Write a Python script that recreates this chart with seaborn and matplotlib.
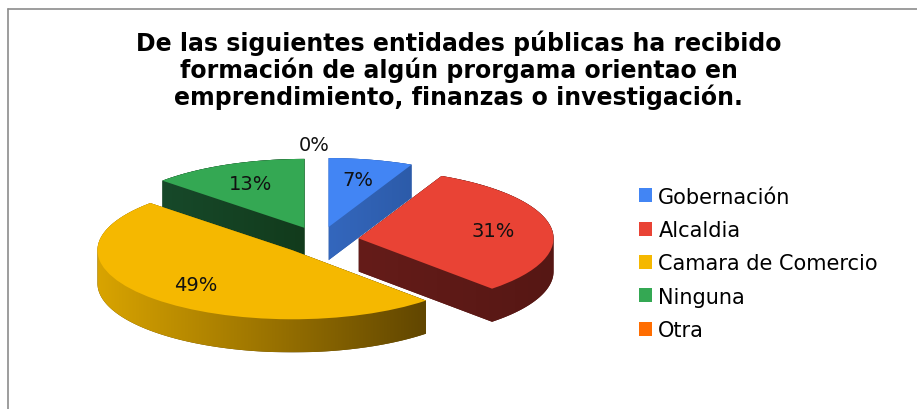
import numpy as np
import matplotlib
matplotlib.use("Agg")
import matplotlib.pyplot as plt
from matplotlib.colors import LinearSegmentedColormap
from matplotlib.patches import Polygon
from matplotlib.lines import Line2D
import seaborn as sns

# datos
categorias = ["Gobernación", "Alcaldia", "Camara de Comercio", "Ninguna", "Otra"]
porcentajes = [7, 31, 49, 13, 0]
colores = ["#4285F4", "#E94335", "#F5B800", "#34A853", "#FF6D01"]
lado_claro = ["#3467BD", "#651C19", "#D9A400", "#17492A", "#C05000"]
lado_oscuro = ["#2C5BA9", "#561714", "#614600", "#123B1C", "#803500"]
titulo = ("De las siguientes entidades públicas ha recibido\n"
          "formación de algún prorgama orientao en\n"
          "emprendimiento, finanzas o investigación.")

sns.set_theme(style="white")
plt.rcParams['font.family'] = ['DejaVu Sans']
plt.rcParams['text.color'] = 'black'

fig = plt.figure(figsize=(9.17, 4.10), dpi=100)
ax = fig.add_axes([0.0513, 0.0744, 0.5954, 0.572])

profundidad = 0.48
explode = [0.2] * len(porcentajes)

wedges, textos, pct = ax.pie(porcentajes, colors=sns.color_palette(colores), startangle=90,
                             counterclock=False, explode=explode, autopct='%1.0f%%',
                             pctdistance=0.7, wedgeprops=dict(linewidth=0),
                             textprops=dict(fontsize=14, color='#111111'))


def casco(puntos):
    # envolvente convexa (monotone chain)
    pts = sorted(set(map(tuple, np.round(puntos, 6))))
    def cruz(o, a, b):
        return (a[0] - o[0]) * (b[1] - o[1]) - (a[1] - o[1]) * (b[0] - o[0])
    bajo, alto = [], []
    for p in pts:
        while len(bajo) >= 2 and cruz(bajo[-2], bajo[-1], p) <= 0:
            bajo.pop()
        bajo.append(p)
    for p in reversed(pts):
        while len(alto) >= 2 and cruz(alto[-2], alto[-1], p) <= 0:
            alto.pop()
        alto.append(p)
    return np.array(bajo[:-1] + alto[:-1])


orden = [3, 0, 1, 2]  # de atras hacia adelante
for k, i in enumerate(orden):
    w = wedges[i]
    ang = np.deg2rad(np.linspace(w.theta1, w.theta2, 150))
    cx, cy = w.center
    arco = np.column_stack([cx + w.r * np.cos(ang), cy + w.r * np.sin(ang)])
    arco = np.vstack([[cx, cy], arco])
    borde = casco(np.vstack([arco, arco - [0, profundidad]]))
    z = 2 + 2 * k
    lado = Polygon(borde, closed=True, facecolor=lado_oscuro[i], edgecolor='none', zorder=z)
    ax.add_patch(lado)
    cmap = LinearSegmentedColormap.from_list('lado%d' % i, [lado_claro[i], lado_oscuro[i]])
    im = ax.imshow(np.linspace(0, 1, 256)[None, :], cmap=cmap, aspect='auto',
                   extent=[borde[:, 0].min(), borde[:, 0].max(), borde[:, 1].min(), borde[:, 1].max()],
                   zorder=z, interpolation='bilinear')
    im.set_clip_path(lado)
    w.set_zorder(z + 1)

wedges[4].set_zorder(1)
for t in pct:
    t.set_zorder(20)
# el 0% queda encima del pastel
x0, y0 = pct[4].get_position()
pct[4].set_position((x0 - 0.03, y0 * 1.55))

ax.set_aspect('auto')
ax.set_xlim(-1.4, 1.4)
ax.set_ylim(-2.0, 1.4)
ax.axis('off')

fig.text(0.5, 1 - 30 / 410, titulo, ha='center', va='top', fontsize=17,
         fontweight='bold', linespacing=1.08, color='black')

fig.legend(wedges, categorias, loc='upper left', bbox_to_anchor=(0.685, 0.568),
           frameon=False, fontsize=15, handlelength=0.65, handleheight=0.65,
           handletextpad=0.3, labelspacing=0.64, borderpad=0, labelcolor='black')

# marco gris del grafico
fig.add_artist(Line2D([8 / 917, 1], [400 / 410, 400 / 410], color='#8c8c8c', lw=1.2))
fig.add_artist(Line2D([8 / 917, 8 / 917], [0, 400 / 410], color='#8c8c8c', lw=1.2))

fig.savefig("out.png", dpi=100)
